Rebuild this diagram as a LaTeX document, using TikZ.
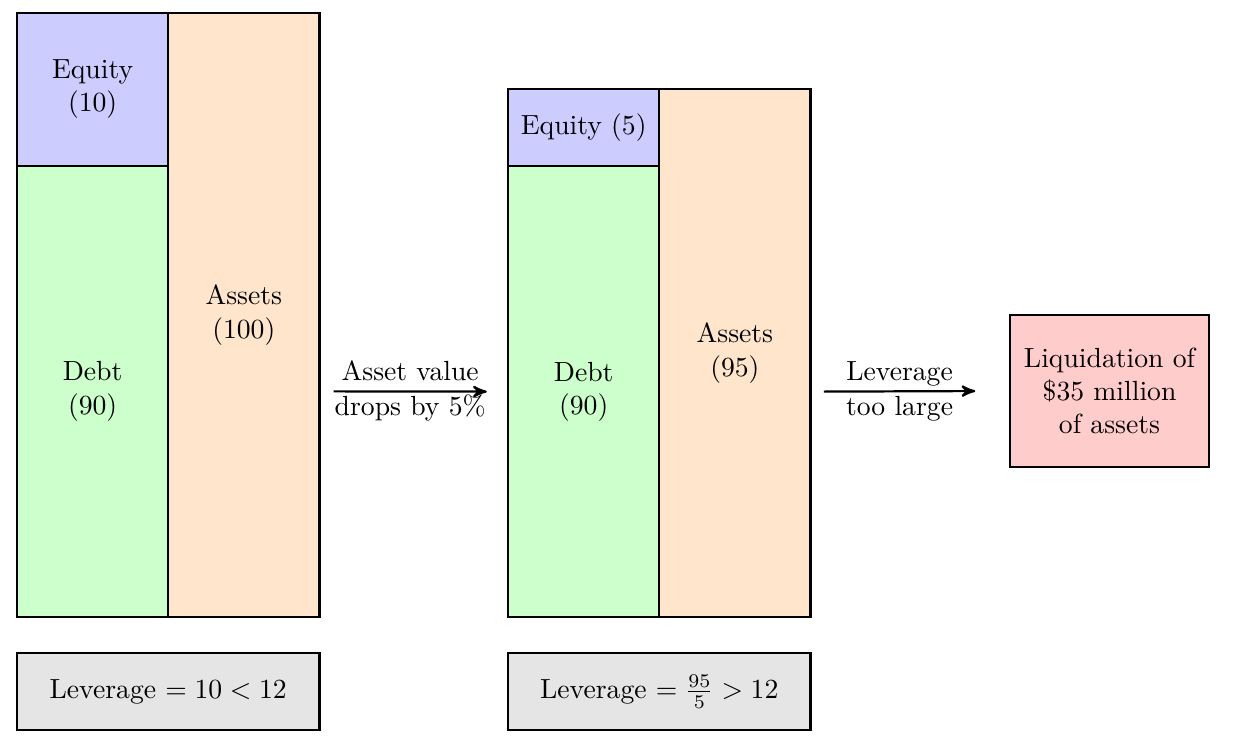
\documentclass[tikz,border=0pt]{standalone}
\usepackage{amsmath}
\usetikzlibrary{positioning}
\usetikzlibrary{arrows}
\usetikzlibrary{calc}
\tikzset{blk/.style={draw,thick,align=center,outer sep=0pt,inner sep=2pt}}
\tikzset{equity/.style={blk,fill=blue!20,minimum width=1.92cm}}
\tikzset{debt/.style={blk,fill=green!20,minimum width=1.92cm,minimum height=5.73cm}}
\tikzset{assets/.style={blk,fill=orange!20,minimum width=1.92cm}}
\tikzset{lev/.style={blk,fill=gray!20,minimum width=3.84cm,minimum height=0.98cm}}
\tikzset{ed/.style={inner sep=1.5pt,text height=1.6ex,text depth=0.5ex}}
\tikzset{>=stealth'}

\begin{document}
\begin{tikzpicture}
\useasboundingbox (0,0) rectangle (15.81,-9.385);
% before the drop
\node[equity,minimum height=1.94cm,anchor=north west] (eq1) at (0.216,-0.165) {Equity\\(10)};
\node[debt,anchor=north] (debt1) at (eq1.south) {Debt\\(90)};
\node[assets,anchor=north west,minimum height=7.67cm] (as1) at (eq1.north east) {Assets\\(100)};
\node[lev,anchor=north west] (lev1) at (0.216,-8.293) {Leverage $= 10 < 12$};

% after the drop
\node[debt,anchor=north west] (debt2) at (6.452,-2.108) {Debt\\(90)};
\node[equity,minimum height=0.98cm,anchor=south] (eq2) at (debt2.north) {Equity (5)};
\node[assets,anchor=south west,minimum height=6.71cm] (as2) at (debt2.south east) {Assets\\(95)};
\node[lev,anchor=north west] (lev2) at (6.452,-8.293) {Leverage $= \frac{95}{5} > 12$};

\node[blk,fill=red!20,minimum width=2.53cm,minimum height=1.93cm] (liq) at (14.09,-4.966) {Liquidation of\\\$35 million\\of assets};

\coordinate (s1) at ($(as1.east |- debt1.center)+(0.18,0)$);
\coordinate (e1) at ($(debt2.west)+(-0.27,0)$);
\coordinate (s2) at ($(as2.east |- debt2.center)+(0.17,0)$);
\coordinate (e2) at ($(liq.west)+(-0.44,0)$);

\draw[->,thick] (s1) -- node[ed,above] {Asset value} node[ed,below] {drops by 5\%} (e1);
\draw[->,thick] (s2) -- node[ed,above] {Leverage} node[ed,below] {too large} (e2);
\end{tikzpicture}
\end{document}
